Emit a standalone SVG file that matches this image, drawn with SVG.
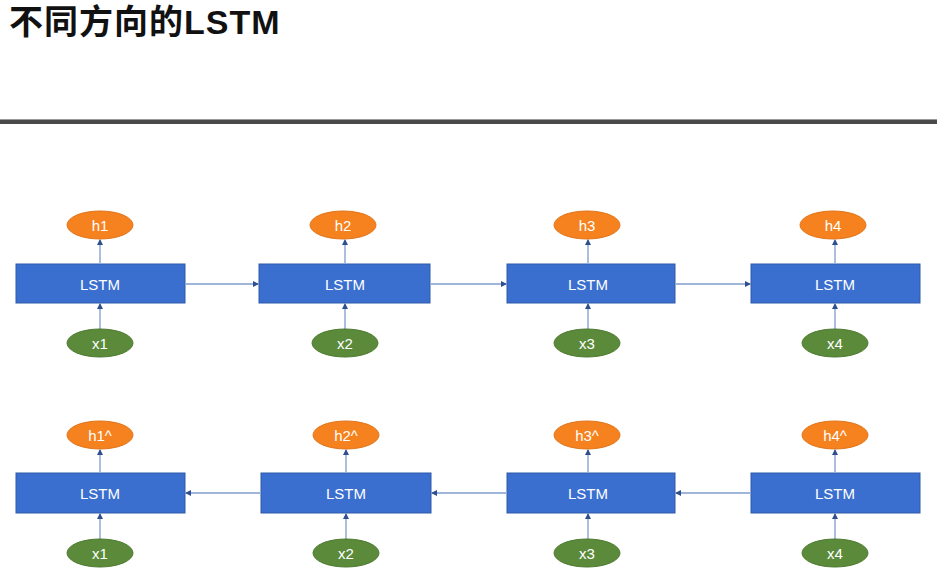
<svg xmlns="http://www.w3.org/2000/svg" width="937" height="588" viewBox="0 0 937 588">
<style>
.box{fill:#3b6fcf;stroke:#2f5aa8;stroke-width:1}
.h{fill:#f5821f;stroke:#e0741a;stroke-width:1}
.x{fill:#5a8a3a;stroke:#4d7a30;stroke-width:1}
.t{font-family:"Liberation Sans",Arial,sans-serif;font-size:15px;fill:#ffffff;text-anchor:middle;dominant-baseline:central}
.c{stroke:#7f9ccc;stroke-width:1.3;fill:none;marker-end:url(#ah)}
.title{font-family:"Liberation Sans","Noto Sans CJK SC",sans-serif;font-size:34px;font-weight:bold;fill:#111;letter-spacing:1px}
</style>
<defs>
<marker id="ah" markerWidth="6" markerHeight="6" refX="5" refY="3" orient="auto" markerUnits="userSpaceOnUse">
<path d="M0,0 L6,3 L0,6 z" fill="#2f4f8f"/>
</marker>
</defs>
<rect width="937" height="588" fill="#ffffff"/>
<text class="title" x="9" y="34">不同方向的LSTM</text>
<rect x="0" y="120" width="937" height="4" fill="#4a4a4a"/>
<rect x="0" y="119" width="937" height="1" fill="#9a9a9a"/>

<g id="connectors">
<line class="c" x1="186" y1="284" x2="258" y2="284"/>
<line class="c" x1="431" y1="284" x2="506" y2="284"/>
<line class="c" x1="676" y1="284" x2="750" y2="284"/>
<line class="c" x1="100" y1="329" x2="100" y2="304"/>
<line class="c" x1="345" y1="329" x2="345" y2="304"/>
<line class="c" x1="588" y1="329" x2="588" y2="304"/>
<line class="c" x1="835" y1="329" x2="835" y2="304"/>
<line class="c" x1="100" y1="263" x2="100" y2="240"/>
<line class="c" x1="345" y1="263" x2="345" y2="240"/>
<line class="c" x1="588" y1="263" x2="588" y2="240"/>
<line class="c" x1="835" y1="263" x2="835" y2="240"/>
<line class="c" x1="260" y1="493" x2="186" y2="493"/>
<line class="c" x1="506" y1="493" x2="432" y2="493"/>
<line class="c" x1="750" y1="493" x2="676" y2="493"/>
<line class="c" x1="100" y1="539" x2="100" y2="514"/>
<line class="c" x1="346" y1="539" x2="346" y2="514"/>
<line class="c" x1="588" y1="539" x2="588" y2="514"/>
<line class="c" x1="835" y1="539" x2="835" y2="514"/>
<line class="c" x1="100" y1="472" x2="100" y2="450"/>
<line class="c" x1="346" y1="472" x2="346" y2="450"/>
<line class="c" x1="588" y1="472" x2="588" y2="450"/>
<line class="c" x1="835" y1="472" x2="835" y2="450"/>
</g>

<g id="lstm_t1"><rect class="box" x="16" y="264" width="169" height="39"/><text class="t" x="100" y="284">LSTM</text></g>
<g id="lstm_t2"><rect class="box" x="259" y="264" width="171" height="39"/><text class="t" x="345" y="284">LSTM</text></g>
<g id="lstm_t3"><rect class="box" x="507" y="264" width="168" height="39"/><text class="t" x="588" y="284">LSTM</text></g>
<g id="lstm_t4"><rect class="box" x="751" y="264" width="169" height="39"/><text class="t" x="835" y="284">LSTM</text></g>

<g id="h1"><ellipse class="h" cx="100" cy="225" rx="33" ry="14"/><text class="t" x="100" y="225">h1</text></g>
<g id="h2"><ellipse class="h" cx="343" cy="225" rx="33" ry="14"/><text class="t" x="343" y="225">h2</text></g>
<g id="h3"><ellipse class="h" cx="587" cy="225" rx="33" ry="14"/><text class="t" x="587" y="225">h3</text></g>
<g id="h4"><ellipse class="h" cx="833" cy="225" rx="33" ry="14"/><text class="t" x="833" y="225">h4</text></g>

<g id="x1_t"><ellipse class="x" cx="100" cy="343" rx="33" ry="14"/><text class="t" x="100" y="343">x1</text></g>
<g id="x2_t"><ellipse class="x" cx="345" cy="343" rx="33" ry="14"/><text class="t" x="345" y="343">x2</text></g>
<g id="x3_t"><ellipse class="x" cx="587" cy="343" rx="33" ry="14"/><text class="t" x="587" y="343">x3</text></g>
<g id="x4_t"><ellipse class="x" cx="835" cy="343" rx="33" ry="14"/><text class="t" x="835" y="343">x4</text></g>

<g id="lstm_b1"><rect class="box" x="16" y="473" width="169" height="40"/><text class="t" x="100" y="493">LSTM</text></g>
<g id="lstm_b2"><rect class="box" x="261" y="473" width="170" height="40"/><text class="t" x="346" y="493">LSTM</text></g>
<g id="lstm_b3"><rect class="box" x="507" y="473" width="168" height="40"/><text class="t" x="588" y="493">LSTM</text></g>
<g id="lstm_b4"><rect class="box" x="751" y="473" width="169" height="40"/><text class="t" x="835" y="493">LSTM</text></g>

<g id="h1b"><ellipse class="h" cx="100" cy="435" rx="33" ry="14"/><text class="t" x="100" y="435">h1^</text></g>
<g id="h2b"><ellipse class="h" cx="346" cy="435" rx="33" ry="14"/><text class="t" x="346" y="435">h2^</text></g>
<g id="h3b"><ellipse class="h" cx="587" cy="435" rx="33" ry="14"/><text class="t" x="587" y="435">h3^</text></g>
<g id="h4b"><ellipse class="h" cx="835" cy="435" rx="33" ry="14"/><text class="t" x="835" y="435">h4^</text></g>

<g id="x1_b"><ellipse class="x" cx="100" cy="553" rx="33" ry="14"/><text class="t" x="100" y="553">x1</text></g>
<g id="x2_b"><ellipse class="x" cx="346" cy="553" rx="33" ry="14"/><text class="t" x="346" y="553">x2</text></g>
<g id="x3_b"><ellipse class="x" cx="587" cy="553" rx="33" ry="14"/><text class="t" x="587" y="553">x3</text></g>
<g id="x4_b"><ellipse class="x" cx="835" cy="553" rx="33" ry="14"/><text class="t" x="835" y="553">x4</text></g>
</svg>
